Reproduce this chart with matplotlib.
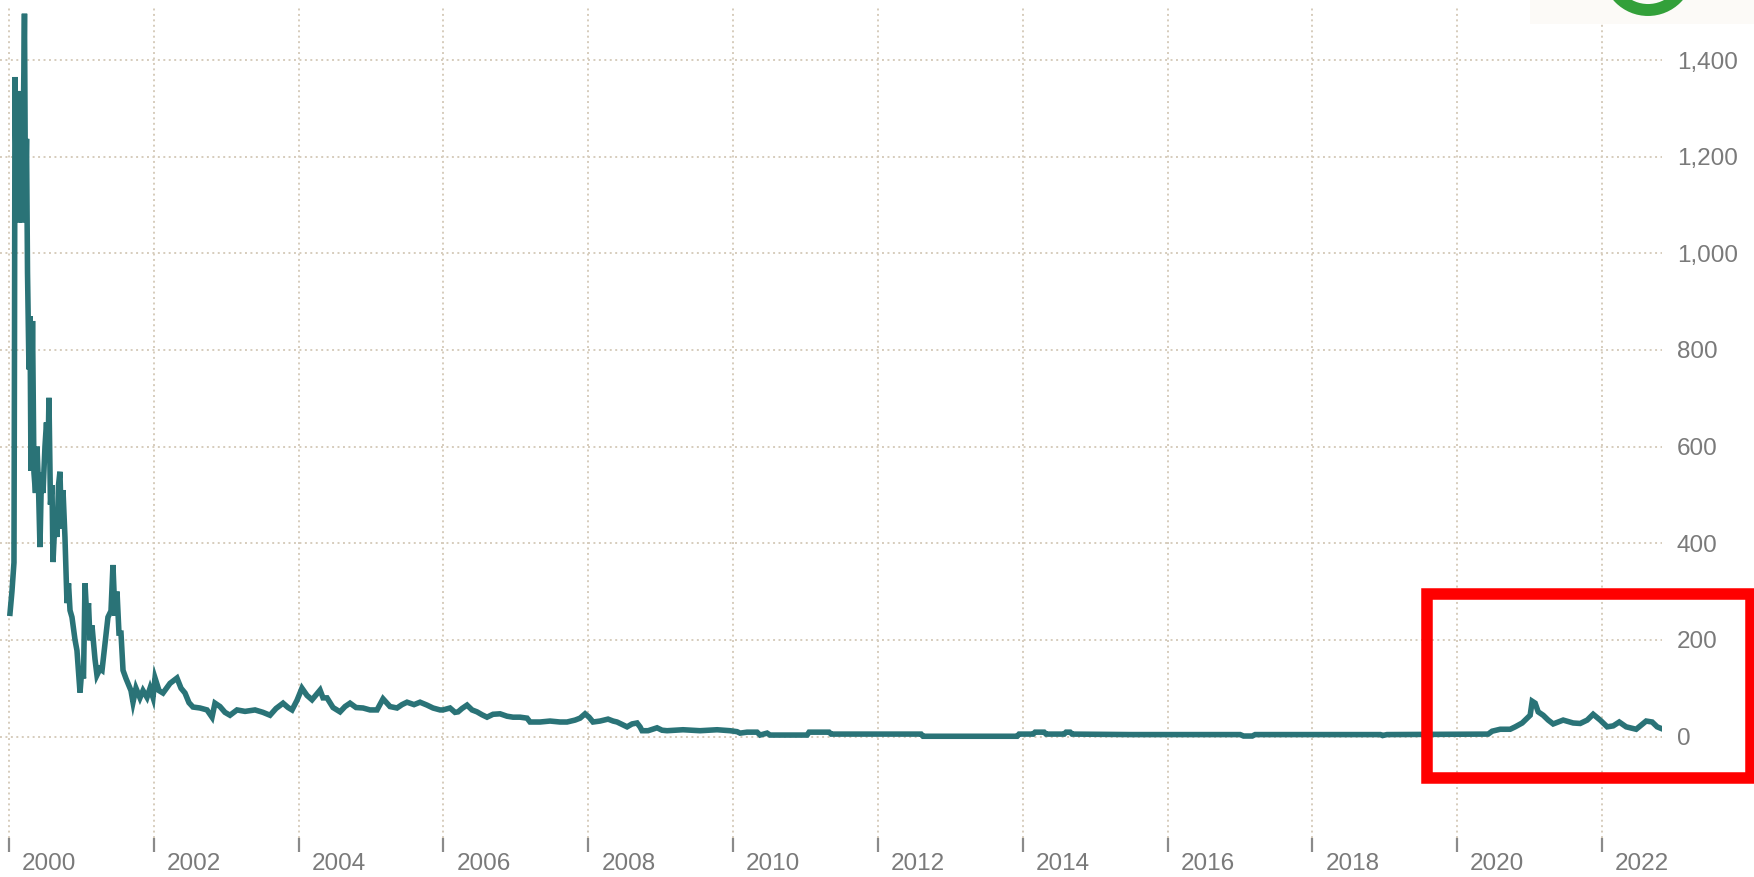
import matplotlib

matplotlib.use("Agg")
import matplotlib.pyplot as plt
from matplotlib.patches import Rectangle, Circle
from matplotlib.transforms import ScaledTranslation

# decimal year / price
year = [
    2000.014, 2000.041, 2000.069, 2000.076, 2000.083, 2000.104, 2000.117, 2000.138,
    2000.159, 2000.180, 2000.200, 2000.214, 2000.228, 2000.242, 2000.256, 2000.276,
    2000.290, 2000.304, 2000.325, 2000.345, 2000.366, 2000.387, 2000.407, 2000.428,
    2000.449, 2000.470, 2000.497, 2000.518, 2000.539, 2000.552, 2000.573, 2000.594,
    2000.608, 2000.635, 2000.663, 2000.684, 2000.704, 2000.725, 2000.746, 2000.773,
    2000.801, 2000.822, 2000.843, 2000.870, 2000.912, 2000.939, 2000.967, 2000.981,
    2001.008, 2001.029, 2001.050, 2001.077, 2001.098, 2001.119, 2001.146, 2001.188,
    2001.215, 2001.257, 2001.285, 2001.326, 2001.367, 2001.409, 2001.436, 2001.464,
    2001.492, 2001.519, 2001.547, 2001.575, 2001.616, 2001.644, 2001.685, 2001.713,
    2001.754, 2001.809, 2001.851, 2001.906, 2001.948, 2001.989, 2002.017, 2002.072,
    2002.127, 2002.224, 2002.320, 2002.376, 2002.431, 2002.486, 2002.541, 2002.638,
    2002.735, 2002.804, 2002.845, 2002.914, 2002.983, 2003.052, 2003.149, 2003.260,
    2003.398, 2003.508, 2003.605, 2003.688, 2003.785, 2003.854, 2003.909, 2003.978,
    2004.046, 2004.116, 2004.185, 2004.296, 2004.337, 2004.392, 2004.475, 2004.572,
    2004.641, 2004.710, 2004.793, 2004.890, 2004.986, 2005.083, 2005.166, 2005.262,
    2005.359, 2005.428, 2005.497, 2005.594, 2005.677, 2005.773, 2005.856, 2005.953,
    2005.994, 2006.091, 2006.160, 2006.202, 2006.257, 2006.326, 2006.395, 2006.464,
    2006.533, 2006.602, 2006.685, 2006.782, 2006.878, 2006.961, 2007.058, 2007.155,
    2007.196, 2007.334, 2007.472, 2007.610, 2007.707, 2007.818, 2007.887, 2007.956,
    2008.011, 2008.066, 2008.163, 2008.273, 2008.343, 2008.398, 2008.467, 2008.536,
    2008.605, 2008.674, 2008.715, 2008.743, 2008.826, 2008.950, 2009.019, 2009.088,
    2009.309, 2009.544, 2009.779, 2009.959, 2010.055, 2010.097, 2010.193, 2010.331,
    2010.373, 2010.470, 2010.511, 2011.022, 2011.050, 2011.326, 2011.354, 2012.597,
    2012.624, 2013.923, 2013.950, 2014.144, 2014.171, 2014.296, 2014.323, 2014.572,
    2014.599, 2014.655, 2014.682, 2015.500, 2016.500, 2017.003, 2017.050, 2017.170,
    2017.210, 2018.940, 2018.970, 2019.030, 2020.428, 2020.483, 2020.594, 2020.732,
    2020.801, 2020.898, 2020.967, 2021.008, 2021.036, 2021.077, 2021.119, 2021.188,
    2021.257, 2021.326, 2021.464, 2021.602, 2021.699, 2021.796, 2021.878, 2021.975,
    2022.072, 2022.155, 2022.238, 2022.334, 2022.472, 2022.610, 2022.693, 2022.762,
    2022.844,
]
price = [
    255, 300, 360, 790, 1365, 1100, 1336, 1064,
    1336, 1064, 1300, 1496, 1100, 1237, 960, 760,
    870, 550, 860, 546, 504, 600, 520, 392,
    546, 504, 600, 650, 580, 701, 480, 520,
    361, 450, 413, 520, 548, 430, 510, 413,
    276, 317, 261, 247, 200, 178, 120, 91,
    143, 120, 317, 240, 276, 199, 230, 160,
    127, 140, 137, 193, 247, 260, 355, 250,
    300, 214, 214, 137, 120, 110, 95, 71,
    100, 80, 95, 81, 100, 81, 121, 95,
    90, 110, 121, 100, 90, 70, 61, 59,
    55, 40, 69, 62, 50, 44, 55, 52,
    55, 50, 44, 58, 69, 60, 55, 75,
    100, 85, 76, 96, 80, 80, 60, 51,
    62, 69, 60, 59, 55, 55, 78, 62,
    59, 66, 71, 66, 71, 65, 59, 55,
    55, 59, 50, 51, 58, 65, 55, 51,
    45, 40, 46, 47, 42, 40, 40, 38,
    30, 30, 32, 30, 30, 34, 38, 47,
    40, 30, 32, 36, 32, 30, 25, 20,
    26, 28, 20, 12, 12, 18, 13, 12,
    14, 12, 14, 12, 10, 7, 9, 9,
    3, 7, 3, 3, 9, 9, 5, 5,
    0.5, 0.5, 5, 5, 9, 9, 5, 5,
    9, 9, 5, 4, 4, 4, 1, 1,
    4, 4, 2, 4, 5, 11, 15, 15,
    20, 28, 38, 44, 73, 69, 51, 44,
    34, 26, 34, 28, 27, 34, 46, 34,
    20, 22, 30, 20, 15, 32, 30, 20,
    15,
]
ytick_vals = [0, 200, 400, 600, 800, 1000, 1200, 1400]
xtick_years = list(range(2000, 2023, 2))

LINE = "#2a7377"
GRID = "#d6ccbc"
TXT = "#7a7a7a"

plt.rcParams.update({"font.family": ["Liberation Sans", "DejaVu Sans"]})
fig = plt.figure(figsize=(17.54, 8.77), dpi=100)
ax = fig.add_axes([0.0, 0.0445, 0.9476, 0.9465])

ax.plot(year, price, color=LINE, lw=4.0, solid_joinstyle="miter", zorder=3)

ax.set_xlim(1999.876, 2022.83)
ax.set_ylim(-210, 1508)
for s in ax.spines.values():
    s.set_visible(False)

ax.grid(True, color=GRID, lw=1.4, ls=(0, (1, 1.8)))
ax.set_yticks(ytick_vals)
ax.set_yticklabels([f"{v:,}" for v in ytick_vals])
ax.yaxis.tick_right()
ax.tick_params(axis="y", length=0, pad=10.5, labelsize=17.5, labelcolor=TXT)

ax.set_xticks(xtick_years)
ax.set_xticklabels([str(y) for y in xtick_years])
ax.tick_params(axis="x", length=10, width=1.6, color="#8a8a8a", pad=1,
               labelsize=17.5, labelcolor=TXT)
shift = ScaledTranslation(13 / 100, 0, fig.dpi_scale_trans)
for lab in ax.get_xticklabels():
    lab.set_horizontalalignment("left")
    lab.set_transform(lab.get_transform() + shift)

# red highlight box and the corner badge, in pixel positions of the figure
px = fig.dpi_scale_trans
fig.patches.append(Rectangle((14.265, (877 - 777.5) / 100), 3.245, 1.835,
                             fill=False, ec="#ff0000", lw=8.3, transform=px))
fig.patches.append(Rectangle((15.30, 8.53), 2.30, 0.26, fc="#fcfaf7", ec="none",
                             transform=px))
fig.patches.append(Circle((16.48, 9.07), 0.40, fill=False, ec="#33a03a", lw=8.6,
                          transform=px))

fig.savefig("out.png", dpi=100)
